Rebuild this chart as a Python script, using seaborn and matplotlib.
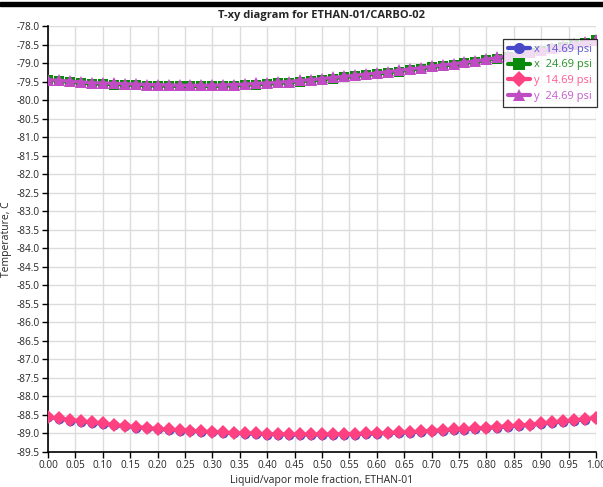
import numpy as np
import pandas as pd
import seaborn as sns
import matplotlib as mpl
import matplotlib.pyplot as plt
from matplotlib.patches import Rectangle

sns.set_theme(style="whitegrid")
plt.rcParams["font.family"] = ["Open Sans", "DejaVu Sans"]

# mole fraction grid (every 0.02)
frac = [round(0.02 * i, 2) for i in range(51)]

# 24.69 psi, vapor (y) temperatures
t_y_hi = [-79.45, -79.47, -79.49, -79.51, -79.53, -79.54, -79.55, -79.56, -79.57, -79.58,
          -79.59, -79.59, -79.60, -79.60, -79.60, -79.60, -79.59, -79.58, -79.57, -79.55,
          -79.54, -79.52, -79.50, -79.47, -79.45, -79.42, -79.39, -79.36, -79.33, -79.30,
          -79.27, -79.23, -79.20, -79.16, -79.13, -79.09, -79.05, -79.02, -78.98, -78.94,
          -78.90, -78.85, -78.80, -78.75, -78.70, -78.65, -78.60, -78.55, -78.49, -78.44,
          -78.38]
# 24.69 psi, liquid (x) temperatures
t_x_hi = [-79.45, -79.49, -79.52, -79.54, -79.56, -79.57, -79.58, -79.59, -79.60, -79.61,
          -79.62, -79.62, -79.63, -79.63, -79.63, -79.63, -79.62, -79.61, -79.60, -79.58,
          -79.57, -79.55, -79.53, -79.50, -79.48, -79.45, -79.42, -79.39, -79.36, -79.33,
          -79.30, -79.26, -79.23, -79.19, -79.16, -79.12, -79.08, -79.05, -79.01, -78.97,
          -78.93, -78.88, -78.83, -78.78, -78.73, -78.68, -78.63, -78.57, -78.51, -78.45,
          -78.38]
# 14.69 psi, vapor (y) temperatures
t_y_lo = [-88.55, -88.59, -88.63, -88.66, -88.70, -88.73, -88.76, -88.79, -88.82, -88.84,
          -88.87, -88.89, -88.91, -88.92, -88.94, -88.95, -88.97, -88.98, -88.99, -89.00,
          -89.01, -89.01, -89.02, -89.02, -89.02, -89.02, -89.02, -89.01, -89.01, -89.00,
          -88.99, -88.98, -88.97, -88.96, -88.94, -88.92, -88.91, -88.89, -88.88, -88.86,
          -88.84, -88.82, -88.80, -88.78, -88.76, -88.73, -88.70, -88.67, -88.64, -88.61,
          -88.57]
# 14.69 psi, liquid (x) temperatures
t_x_lo = [-88.55, -88.61, -88.65, -88.68, -88.72, -88.75, -88.78, -88.81, -88.84, -88.86,
          -88.89, -88.91, -88.93, -88.94, -88.96, -88.97, -88.99, -89.00, -89.01, -89.02,
          -89.03, -89.03, -89.04, -89.04, -89.04, -89.04, -89.04, -89.03, -89.03, -89.02,
          -89.01, -89.00, -88.99, -88.98, -88.96, -88.94, -88.93, -88.91, -88.90, -88.88,
          -88.86, -88.84, -88.82, -88.80, -88.78, -88.75, -88.72, -88.69, -88.66, -88.63,
          -88.57]

labels = ["x  14.69 psi", "x  24.69 psi", "y  14.69 psi", "y  24.69 psi"]
series = [t_x_lo, t_x_hi, t_y_lo, t_y_hi]
colors = ["#4848c8", "#0a8a0a", "#ff4081", "#c04cc4"]
text_colors = ["#5a5ad0", "#2a922a", "#ff5a90", "#c45ccc"]
markers = ["o", "s", "D", "^"]
msizes = [7, 7, 7, 8]

fig = plt.figure(figsize=(6.03, 4.87), dpi=100)
ax = fig.add_axes([48 / 603, 1 - 452 / 487, 548 / 603, 426 / 487])

for i, (lab, t) in enumerate(zip(labels, series)):
    df = pd.DataFrame({"frac": frac, "T": t})
    sns.lineplot(ax=ax, data=df, x="frac", y="T", color=colors[i], marker=markers[i],
                 markersize=msizes[i], markeredgewidth=0, linewidth=2.4, label=lab,
                 zorder=3 + i)

ax.set_xlim(0, 1)
ax.set_ylim(-89.5, -78.0)
ax.set_xticks(np.arange(0, 1.001, 0.05))
ax.set_yticks(np.arange(-89.5, -77.99, 0.5))
ax.xaxis.set_major_formatter(mpl.ticker.FormatStrFormatter("%.2f"))
ax.yaxis.set_major_formatter(mpl.ticker.FormatStrFormatter("%.1f"))
ax.tick_params(axis="both", labelsize=7.2, length=4, width=1, color="black",
               direction="out", pad=2, bottom=True, left=True)
ax.grid(True, color="#dcdcdc", linewidth=1)
for s in ["top", "right"]:
    ax.spines[s].set_visible(False)
for s in ["left", "bottom"]:
    ax.spines[s].set_color("black")
    ax.spines[s].set_linewidth(1.2)
ax.set_facecolor("white")

ax.set_title("T-xy diagram for ETHAN-01/CARBO-02", fontsize=8, fontweight="bold", pad=6)
ax.set_xlabel("Liquid/vapor mole fraction, ETHAN-01", fontsize=7.5, labelpad=3)
ax.set_ylabel("Temperature, C", fontsize=7.5)
ax.yaxis.set_label_coords(-36 / 548, 0.5)

leg = ax.legend(loc="upper right", bbox_to_anchor=(1.002, 0.97), fontsize=8,
                frameon=True, fancybox=False, borderaxespad=0, handlelength=2.0,
                handletextpad=0.35, borderpad=0.45, labelspacing=0.42)
leg.get_frame().set_edgecolor("black")
leg.get_frame().set_linewidth(0.9)
leg.set_zorder(20)
for txt, c in zip(leg.get_texts(), text_colors):
    txt.set_color(c)
for h in leg.legend_handles:
    h.set_linewidth(3)
    h.set_markersize(8)

# dark window bar across the top
fig.add_artist(Rectangle((0, 1 - 6 / 487), 1, 3.5 / 487, transform=fig.transFigure,
                         color="black", zorder=30))

fig.savefig("out.png", dpi=100)
